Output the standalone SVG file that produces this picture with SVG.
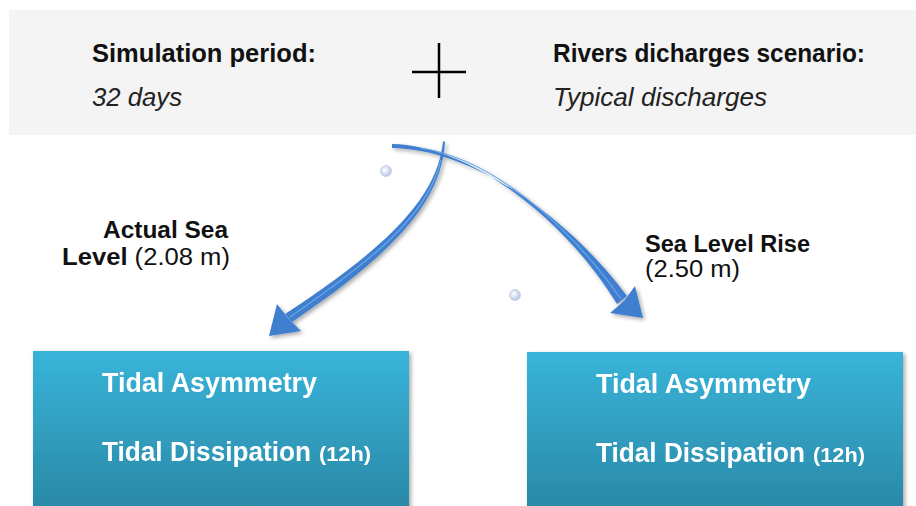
<svg xmlns="http://www.w3.org/2000/svg" width="916" height="506" viewBox="0 0 916 506">
  <defs>
    <linearGradient id="boxGrad" x1="0" y1="0" x2="0" y2="1">
      <stop offset="0" stop-color="#38b4d9"/>
      <stop offset="1" stop-color="#2a88a6"/>
    </linearGradient>
    <filter id="shadow" x="-10%" y="-10%" width="130%" height="130%">
      <feGaussianBlur in="SourceAlpha" stdDeviation="2"/>
      <feOffset dx="2" dy="2" result="b"/>
      <feComponentTransfer><feFuncA type="linear" slope="0.35"/></feComponentTransfer>
      <feMerge><feMergeNode/><feMergeNode in="SourceGraphic"/></feMerge>
    </filter>
    <radialGradient id="bubble" cx="0.4" cy="0.4" r="0.6">
      <stop offset="0" stop-color="#ffffff"/>
      <stop offset="1" stop-color="#b5c6e6"/>
    </radialGradient>
  </defs>
  <style>
    .b { font-family: "Liberation Sans", Arial, sans-serif; font-weight: bold; fill: #111; }
    .i { font-family: "Liberation Sans", Arial, sans-serif; font-style: italic; fill: #222; }
    .r { font-family: "Liberation Sans", Arial, sans-serif; fill: #111; }
    .w { font-family: "Liberation Sans", Arial, sans-serif; font-weight: bold; fill: #ffffff; }
    .arrow { fill: #3f7fcf; }
    .hl { fill: none; stroke: #6aa6e6; stroke-width: 1.2; }
  </style>
  <rect width="916" height="506" fill="#ffffff"/>

  <g id="header">
    <rect x="9" y="10" width="907" height="125" fill="#f4f4f4"/>
    <text class="b" x="92" y="62" font-size="25" textLength="224" lengthAdjust="spacingAndGlyphs">Simulation period:</text>
    <text class="i" x="92" y="106" font-size="25" textLength="90" lengthAdjust="spacingAndGlyphs">32 days</text>
    <g id="plus" stroke="#000" stroke-width="2.5">
      <line x1="439" y1="43" x2="439" y2="98"/>
      <line x1="412" y1="72" x2="466" y2="72"/>
    </g>
    <text class="b" x="553" y="62" font-size="25" textLength="312" lengthAdjust="spacingAndGlyphs">Rivers dicharges scenario:</text>
    <text class="i" x="553" y="106" font-size="25" textLength="214" lengthAdjust="spacingAndGlyphs">Typical discharges</text>
  </g>

  <g id="connectors" filter="url(#shadow)">
    <path class="arrow" d="M 443,141 C 438,200 380,252 285,314 L 292,322 C 386,258 442,205 445,142 Z"/>
    <path class="hl" d="M 441,160 C 428,215 375,258 290,317"/>
    <polygon class="arrow" points="269,336 277,304 288,318 301,331"/>
    <path class="arrow" d="M 392,144 C 470,145 565,219 617,304 L 627,296 C 568,217 473,149 392,148 Z"/>
    <path class="hl" d="M 420,148 C 490,158 567,222 621,299"/>
    <polygon class="arrow" points="643,318 635,286 624,301 610,313"/>
  </g>

  <g id="bubbles">
    <circle cx="386" cy="171" r="5.5" fill="url(#bubble)" stroke="#c0cde6" stroke-width="0.8"/>
    <circle cx="515" cy="295" r="5.5" fill="url(#bubble)" stroke="#c0cde6" stroke-width="0.8"/>
  </g>

  <g id="label-actual">
    <text class="b" x="228" y="238" font-size="23" text-anchor="end" textLength="125" lengthAdjust="spacingAndGlyphs">Actual Sea</text>
    <text x="62" y="265" font-size="23" textLength="168" lengthAdjust="spacingAndGlyphs"><tspan class="b">Level</tspan><tspan class="r"> (2.08 m)</tspan></text>
  </g>

  <g id="label-rise">
    <text class="b" x="645" y="252" font-size="23" textLength="165" lengthAdjust="spacingAndGlyphs">Sea Level Rise</text>
    <text class="r" x="645" y="277" font-size="23" textLength="95" lengthAdjust="spacingAndGlyphs">(2.50 m)</text>
  </g>

  <g id="box-left" filter="url(#shadow)">
    <rect x="33" y="351" width="376" height="160" fill="url(#boxGrad)"/>
    <text class="w" x="102" y="392" font-size="27" textLength="215" lengthAdjust="spacingAndGlyphs">Tidal Asymmetry</text>
    <text class="w" x="102" y="461" font-size="27" textLength="209" lengthAdjust="spacingAndGlyphs">Tidal Dissipation</text>
    <text class="w" x="319" y="461" font-size="20" textLength="52" lengthAdjust="spacingAndGlyphs">(12h)</text>
  </g>

  <g id="box-right" filter="url(#shadow)">
    <rect x="527" y="352" width="376" height="160" fill="url(#boxGrad)"/>
    <text class="w" x="596" y="393" font-size="27" textLength="215" lengthAdjust="spacingAndGlyphs">Tidal Asymmetry</text>
    <text class="w" x="596" y="462" font-size="27" textLength="209" lengthAdjust="spacingAndGlyphs">Tidal Dissipation</text>
    <text class="w" x="813" y="462" font-size="20" textLength="52" lengthAdjust="spacingAndGlyphs">(12h)</text>
  </g>
</svg>
